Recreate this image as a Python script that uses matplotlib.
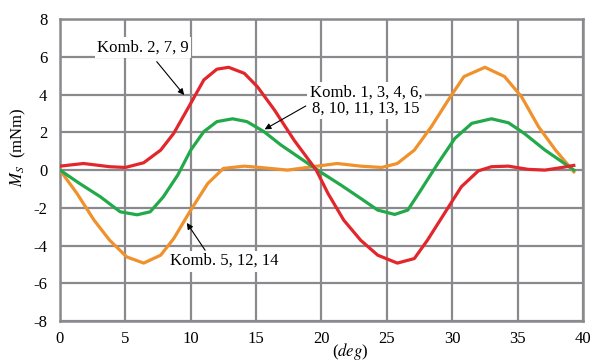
import matplotlib
matplotlib.use("Agg")
import matplotlib.pyplot as plt

plt.rcParams['font.family'] = ['Liberation Serif', 'DejaVu Serif']
plt.rcParams['mathtext.fontset'] = 'stix'
plt.rcParams['axes.unicode_minus'] = False

# Komb. 2, 7, 9 (red)
red_x = [0, 1.8, 3.8, 5, 6.4, 7.7, 8.7, 10, 11, 12, 12.9, 14.1, 15.1, 16.4, 17.9, 19.6,
         20.5, 21.7, 23, 24.3, 25.8, 27.1, 28.1, 29.4, 30.7, 32, 33, 34.3, 35.8, 37.1, 38.4, 39.3]
red_y = [0.21, 0.35, 0.18, 0.14, 0.39, 1.06, 1.95, 3.54, 4.78, 5.35, 5.45, 5.13, 4.42, 3.19,
         1.59, 0.0, -1.24, -2.65, -3.72, -4.51, -4.93, -4.69, -3.72, -2.3, -0.88, -0.04, 0.18,
         0.21, 0.04, 0.0, 0.14, 0.25]

# Komb. 1, 3, 4, 6, 8, 10, 11, 13, 15 (green)
green_x = [0, 1.5, 3.1, 4.6, 5.9, 6.9, 7.9, 9, 10, 11, 12, 13.2, 14.3, 15.6, 16.9, 18.4,
           19.9, 21.5, 23, 24.3, 25.6, 26.6, 27.6, 28.9, 30.2, 31.5, 33, 34.3, 35.5, 37.1, 38.4, 39.3]
green_y = [0.0, -0.71, -1.42, -2.21, -2.37, -2.21, -1.42, -0.27, 1.06, 2.04, 2.57, 2.72, 2.57,
           2.04, 1.33, 0.62, -0.09, -0.8, -1.5, -2.12, -2.35, -2.12, -1.06, 0.35, 1.68, 2.48,
           2.72, 2.51, 1.95, 1.06, 0.44, 0.0]

# Komb. 5, 12, 14 (orange)
orange_x = [0, 1.3, 2.6, 3.8, 5.1, 6.4, 7.7, 8.7, 10, 11.3, 12.5, 14.1, 15.3, 17.4, 18.9,
            21.2, 23, 24.6, 25.8, 27.1, 28.4, 29.7, 30.9, 32.5, 34, 35.3, 36.6, 37.9, 39.3]
orange_y = [0.0, -1.24, -2.65, -3.72, -4.6, -4.93, -4.51, -3.63, -2.12, -0.71, 0.09, 0.21,
            0.14, 0.0, 0.14, 0.35, 0.21, 0.14, 0.35, 1.06, 2.3, 3.72, 4.96, 5.45, 4.96, 3.89,
            2.3, 1.06, -0.09]

x_ticks = [0, 5, 10, 15, 20, 25, 30, 35, 40]
y_ticks = [-8, -6, -4, -2, 0, 2, 4, 6, 8]

fig = plt.figure(figsize=(5.97, 3.61), dpi=100)
ax = fig.add_axes([0.1005, 0.1108, 0.876, 0.836])

grid_c = '#8a8a8e'
ax.set_axisbelow(True)
ax.grid(True, color=grid_c, linewidth=1.6)
for s in ax.spines.values():
    s.set_color(grid_c)
    s.set_linewidth(1.8)

ax.plot(orange_x, orange_y, color='#f0912b', lw=2.3, zorder=4)
ax.plot(green_x, green_y, color='#22a94a', lw=2.3, zorder=5)
ax.plot(red_x, red_y, color='#e3262b', lw=2.3, zorder=6)

ax.set_xlim(0, 40)
ax.set_ylim(-8, 8)
ax.set_xticks(x_ticks)
ax.set_yticks(y_ticks)
ax.tick_params(length=0, labelsize=12)
ax.tick_params(axis='y', pad=9)
ax.tick_params(axis='x', pad=7)

ax.set_xlabel('($deg$)', fontsize=12)
ax.xaxis.label.set_va('center')
ax.xaxis.set_label_coords(0.555, -0.102)
ax.set_ylabel('$M_S$  (mNm)', fontsize=12)
ax.yaxis.set_label_coords(-0.062, 0.575)

bbox = dict(boxstyle='square,pad=0.15', fc='white', ec='none')
arrow = dict(arrowstyle='-|>', color='black', lw=0.8, mutation_scale=9, shrinkA=0, shrinkB=0)

ax.text(6.35, 6.5, 'Komb. 2, 7, 9', fontsize=12, ha='center', va='center', bbox=bbox, zorder=3)
ax.annotate('', xy=(9.5, 3.98), xytext=(7.4, 5.75), arrowprops=arrow, zorder=7)

ax.text(23.4, 3.7, 'Komb. 1, 3, 4, 6,\n8, 10, 11, 13, 15', fontsize=12, ha='center', va='center',
        bbox=bbox, zorder=3, linespacing=1.0)
ax.annotate('', xy=(15.65, 2.16), xytext=(18.8, 3.4), arrowprops=arrow, zorder=7)

ax.text(12.55, -4.82, 'Komb. 5, 12, 14', fontsize=12, ha='center', va='center', bbox=bbox, zorder=3)
ax.annotate('', xy=(9.7, -2.8), xytext=(11.1, -4.25), arrowprops=arrow, zorder=7)

fig.savefig('out.png', dpi=100)
